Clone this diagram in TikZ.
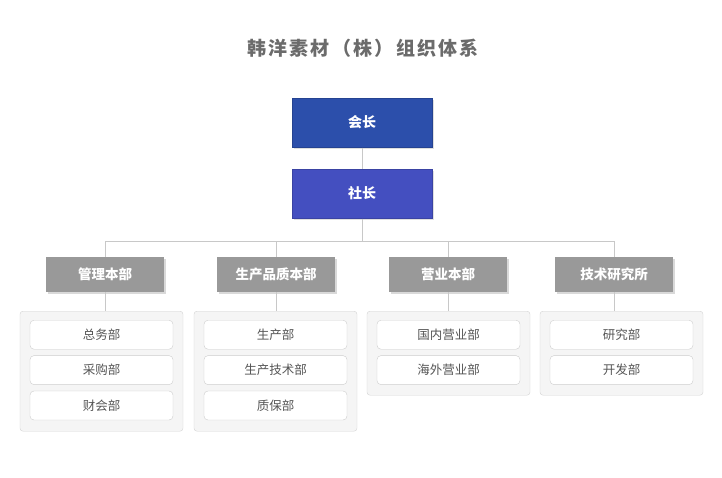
\documentclass[tikz,border=0pt]{standalone}
\usepackage{fontspec}
\setmainfont{Noto Sans CJK SC}
\usepackage{xcolor}
\usepackage{tikz}
\usetikzlibrary{positioning,shadows}

\definecolor{chairblue}{HTML}{2C4FAB}
\definecolor{presblue}{HTML}{444FC0}
\definecolor{deptgray}{HTML}{999999}
\definecolor{linegray}{HTML}{C8C8C8}
\definecolor{textgray}{HTML}{555555}

\begin{document}
\begin{tikzpicture}[
    x=1pt,y=1pt,
    topbox/.style={minimum width=140pt,minimum height=49pt,inner sep=0pt,
      font=\fontsize{14}{16}\selectfont\bfseries,text=white,line width=1pt,
      drop shadow={shadow xshift=1.5pt,shadow yshift=-1.5pt,opacity=0.25}},
    deptbox/.style={fill=deptgray,minimum width=118pt,minimum height=35pt,inner sep=0pt,
      font=\fontsize{13.5}{16}\selectfont\bfseries,text=white,
      drop shadow={shadow xshift=1.5pt,shadow yshift=-1.5pt,opacity=0.3}},
    groupbox/.style={draw=linegray!80,fill=black!4,rounded corners=3pt,
      minimum width=163pt,inner sep=0pt},
    itembox/.style={draw=linegray!90,fill=white,rounded corners=4pt,
      minimum width=143pt,minimum height=29pt,inner sep=0pt,
      font=\fontsize{12.5}{15}\selectfont,text=textgray},
    link/.style={draw=linegray,line width=0.9pt}
  ]
    \useasboundingbox (0,0) rectangle (722,-477);
    \node[font=\fontsize{19}{21}\selectfont\bfseries\addfontfeature{LetterSpace=12},
      text=black!58] (title) at (363,-48) {韩洋素材（株）组织体系};
    \node[topbox,fill=chairblue,draw=chairblue!85!black] (chairman) at (362,-122.5) {会长};
    \node[topbox,fill=presblue,draw=presblue!85!black,below=21pt of chairman] (president) {社长};
    % departments
    \node[deptbox] (mgmt) at (105,-274.5) {管理本部};
    \node[deptbox] (prod) at (276,-274.5) {生产品质本部};
    \node[deptbox] (sales) at (448,-274.5) {营业本部};
    \node[deptbox] (tech) at (614,-274.5) {技术研究所};
    \draw[link] (chairman) -- (president);
    \draw[link] (president.south) -- ++(0,-23) coordinate (bus);
    \draw[link] (bus) -| (mgmt.north);
    \draw[link] (bus) -| (prod.north);
    \draw[link] (bus) -| (sales.north);
    \draw[link] (bus) -| (tech.north);
    % sub-departments
    \node[groupbox,minimum height=120pt,anchor=north] (mgmtgrp) at (101.5,-311) {};
    \node[groupbox,minimum height=120pt,anchor=north] (prodgrp) at (275.5,-311) {};
    \node[groupbox,minimum height=84pt,anchor=north] (salesgrp) at (448.5,-311) {};
    \node[groupbox,minimum height=84pt,anchor=north] (techgrp) at (621.5,-311) {};
    \foreach \d in {mgmt,prod,sales,tech}
      \draw[link] (\d.south) -- (\d.south |- \d grp.north);
    \node[itembox,below=9pt of mgmtgrp.north] (genaff) {总务部};
    \node[itembox,below=6pt of genaff] (purch) {采购部};
    \node[itembox,below=6pt of purch] (finance) {财会部};
    \node[itembox,below=9pt of prodgrp.north] (produce) {生产部};
    \node[itembox,below=6pt of produce] (prodtech) {生产技术部};
    \node[itembox,below=6pt of prodtech] (quality) {质保部};
    \node[itembox,below=9pt of salesgrp.north] (domestic) {国内营业部};
    \node[itembox,below=6pt of domestic] (overseas) {海外营业部};
    \node[itembox,below=9pt of techgrp.north] (research) {研究部};
    \node[itembox,below=6pt of research] (develop) {开发部};
  \end{tikzpicture}
\end{document}
